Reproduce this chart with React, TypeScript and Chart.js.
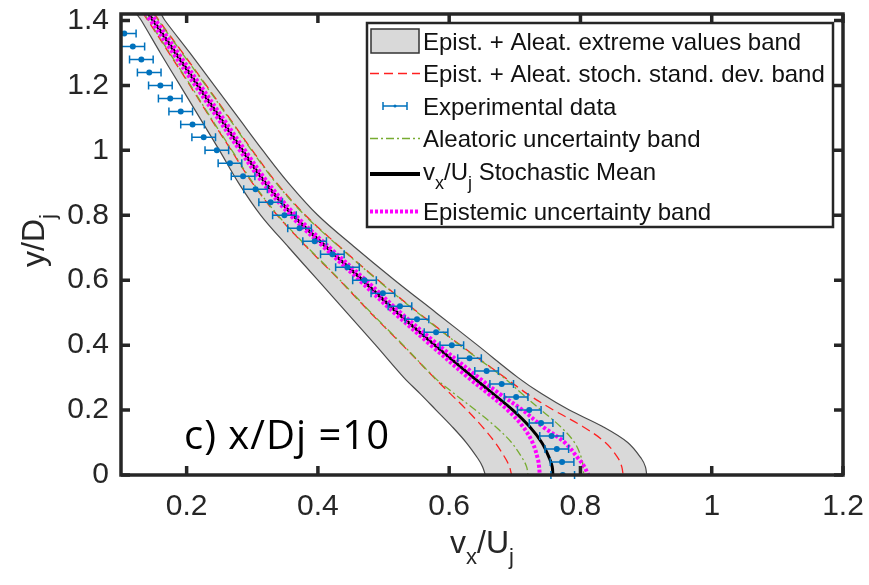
import React, { useEffect, useRef } from "react";
import { Chart, registerables } from "chart.js";

Chart.register(...registerables);

// ---- data (x = vx/Uj, y = y/Dj) ----
const Y_GRID = [1.46, 1.4, 1.3, 1.2, 1.1, 1.0, 0.9, 0.8, 0.7, 0.6, 0.5, 0.4, 0.3, 0.25, 0.2, 0.15, 0.1, 0.05, 0.025, 0];
const MEAN = [0.128, 0.149, 0.183, 0.217, 0.251, 0.285, 0.320, 0.362, 0.414, 0.468, 0.521, 0.578, 0.637, 0.667, 0.697, 0.722, 0.741, 0.753, 0.757, 0.758];
const EXT_LOW = [0.112, 0.131, 0.160, 0.190, 0.220, 0.250, 0.279, 0.313, 0.356, 0.400, 0.444, 0.488, 0.531, 0.556, 0.580, 0.604, 0.626, 0.644, 0.651, 0.655];
const EXT_HIGH = [0.147, 0.167, 0.205, 0.242, 0.279, 0.316, 0.355, 0.400, 0.457, 0.517, 0.580, 0.643, 0.705, 0.741, 0.783, 0.833, 0.872, 0.893, 0.899, 0.901];
const STD_LOW = [0.121, 0.141, 0.173, 0.205, 0.236, 0.268, 0.300, 0.338, 0.384, 0.433, 0.480, 0.529, 0.577, 0.602, 0.627, 0.650, 0.670, 0.686, 0.692, 0.695];
const STD_HIGH = [0.138, 0.158, 0.194, 0.230, 0.265, 0.300, 0.337, 0.381, 0.435, 0.492, 0.553, 0.617, 0.685, 0.719, 0.759, 0.803, 0.838, 0.858, 0.863, 0.865];
const ALEA_LOW = [0.122, 0.142, 0.174, 0.206, 0.237, 0.269, 0.301, 0.339, 0.385, 0.434, 0.481, 0.530, 0.578, 0.608, 0.640, 0.670, 0.695, 0.712, 0.718, 0.720];
const ALEA_HIGH = [0.137, 0.157, 0.193, 0.229, 0.264, 0.299, 0.336, 0.380, 0.434, 0.491, 0.552, 0.616, 0.683, 0.711, 0.740, 0.769, 0.791, 0.802, 0.804, 0.805];
const EPI_LOW = [0.124, 0.145, 0.179, 0.213, 0.247, 0.281, 0.316, 0.358, 0.410, 0.463, 0.516, 0.572, 0.629, 0.660, 0.689, 0.712, 0.727, 0.735, 0.737, 0.738];
const EPI_HIGH = [0.132, 0.153, 0.187, 0.221, 0.255, 0.289, 0.324, 0.366, 0.418, 0.473, 0.526, 0.584, 0.645, 0.677, 0.712, 0.742, 0.776, 0.797, 0.806, 0.812];

const EXP_Y = [1.36, 1.32, 1.28, 1.24, 1.2, 1.16, 1.12, 1.08, 1.04, 1.0, 0.96, 0.92, 0.88, 0.84, 0.8, 0.76, 0.72, 0.68, 0.64, 0.6, 0.56, 0.52, 0.48, 0.44, 0.4, 0.36, 0.32, 0.28, 0.24, 0.2, 0.16, 0.12, 0.08, 0.04, 0.0];
const EXP_X = [0.105, 0.118, 0.131, 0.143, 0.160, 0.175, 0.191, 0.209, 0.226, 0.246, 0.266, 0.286, 0.305, 0.328, 0.349, 0.372, 0.395, 0.422, 0.445, 0.471, 0.499, 0.525, 0.551, 0.580, 0.604, 0.631, 0.657, 0.680, 0.702, 0.722, 0.740, 0.756, 0.764, 0.772, 0.773];
const EXP_ERR = [0.018, 0.018, 0.018, 0.018, 0.018, 0.018, 0.018, 0.018, 0.018, 0.018, 0.018, 0.018, 0.018, 0.018, 0.018, 0.018, 0.018, 0.018, 0.018, 0.018, 0.018, 0.018, 0.018, 0.018, 0.018, 0.018, 0.018, 0.018, 0.018, 0.018, 0.018, 0.018, 0.018, 0.018, 0.018];

const X_TICKS = [0.2, 0.4, 0.6, 0.8, 1.0, 1.2];
const X_TICK_LABELS = ["0.2", "0.4", "0.6", "0.8", "1", "1.2"];
const Y_TICKS = [0, 0.2, 0.4, 0.6, 0.8, 1.0, 1.2, 1.4];
const Y_TICK_LABELS = ["0", "0.2", "0.4", "0.6", "0.8", "1", "1.2", "1.4"];

const LEGEND_LABELS = [
  "Epist. + Aleat. extreme values band",
  "Epist. + Aleat. stoch. stand. dev. band",
  "Experimental data",
  "Aleatoric uncertainty band",
  "Stochastic Mean",
  "Epistemic uncertainty band",
];
const ANNOTATION = "c) x/Dj =10";

// ---- styles ----
const BLUE = "#0072bd";
const RED = "#ff2020";
const GREEN = "#77ac30";
const MAGENTA = "#ff00ff";
const AXIS = "#262626";
const TICK_FONT = '"Liberation Sans", Arial, sans-serif';

const toPts = (xs: number[]) => xs.map((x, i) => ({ x, y: Y_GRID[i] }));
const bandPts = () => {
  const up = EXT_HIGH.map((x, i) => ({ x, y: Y_GRID[i] })).reverse();
  const down = EXT_LOW.map((x, i) => ({ x, y: Y_GRID[i] }));
  return [...up, ...down];
};

function drawParts(ctx: CanvasRenderingContext2D, parts: { t: string; sub?: boolean }[], x: number, y: number, size: number, subSize: number, subDy: number, align: "left" | "center") {
  const fontMain = `${size}px ${TICK_FONT}`;
  const fontSub = `${subSize}px ${TICK_FONT}`;
  let total = 0;
  const widths = parts.map((p) => {
    ctx.font = p.sub ? fontSub : fontMain;
    const w = ctx.measureText(p.t).width;
    total += w;
    return w;
  });
  let cx = align === "center" ? x - total / 2 : x;
  ctx.textAlign = "left";
  ctx.textBaseline = "alphabetic";
  parts.forEach((p, i) => {
    ctx.font = p.sub ? fontSub : fontMain;
    ctx.fillText(p.t, cx, p.sub ? y + subDy : y);
    cx += widths[i];
  });
  return total;
}

const customPlugin = {
  id: "customDraw",
  afterDatasetsDraw(chart: any) {
    const ctx: CanvasRenderingContext2D = chart.ctx;
    const xs = chart.scales.x;
    const ys = chart.scales.y;
    const a = chart.chartArea;
    ctx.save();
    ctx.beginPath();
    ctx.rect(a.left, a.top, a.right - a.left, a.bottom - a.top + 10);
    ctx.clip();
    ctx.strokeStyle = BLUE;
    ctx.lineWidth = 1.5;
    EXP_Y.forEach((yv, i) => {
      const x0 = xs.getPixelForValue(EXP_X[i] - EXP_ERR[i]);
      const x1 = xs.getPixelForValue(EXP_X[i] + EXP_ERR[i]);
      const py = ys.getPixelForValue(yv);
      ctx.beginPath();
      ctx.moveTo(x0, py);
      ctx.lineTo(x1, py);
      ctx.moveTo(x0, py - 4);
      ctx.lineTo(x0, py + 4);
      ctx.moveTo(x1, py - 4);
      ctx.lineTo(x1, py + 4);
      ctx.stroke();
    });
    ctx.restore();
  },
  afterDraw(chart: any) {
    const ctx: CanvasRenderingContext2D = chart.ctx;
    const xs = chart.scales.x;
    const ys = chart.scales.y;
    const a = chart.chartArea;
    ctx.save();
    // frame
    ctx.strokeStyle = AXIS;
    ctx.lineWidth = 3.5;
    ctx.strokeRect(a.left, a.top, a.right - a.left, a.bottom - a.top);
    // inward ticks
    const TL = 9;
    ctx.beginPath();
    X_TICKS.forEach((v) => {
      const px = xs.getPixelForValue(v);
      ctx.moveTo(px, a.bottom);
      ctx.lineTo(px, a.bottom - TL);
      ctx.moveTo(px, a.top);
      ctx.lineTo(px, a.top + TL);
    });
    Y_TICKS.forEach((v) => {
      const py = ys.getPixelForValue(v);
      ctx.moveTo(a.left, py);
      ctx.lineTo(a.left + TL, py);
      ctx.moveTo(a.right, py);
      ctx.lineTo(a.right - TL, py);
    });
    ctx.stroke();

    // axis titles
    ctx.fillStyle = AXIS;
    drawParts(ctx, [{ t: "v" }, { t: "x", sub: true }, { t: "/U" }, { t: "j", sub: true }], (a.left + a.right) / 2, 553, 32, 22, 11, "center");
    ctx.save();
    ctx.translate(44, (a.top + a.bottom) / 2 - 4);
    ctx.rotate(-Math.PI / 2);
    drawParts(ctx, [{ t: "y/D" }, { t: "j", sub: true }], 0, 0, 32, 22, 11, "center");
    ctx.restore();

    // legend
    const L = { l: 367, t: 23, r: 833, b: 227 };
    ctx.fillStyle = "#ffffff";
    ctx.fillRect(L.l, L.t, L.r - L.l, L.b - L.t);
    ctx.strokeStyle = AXIS;
    ctx.lineWidth = 2.5;
    ctx.strokeRect(L.l, L.t, L.r - L.l, L.b - L.t);
    const rows = [41.5, 73.5, 106, 138.5, 171, 211.5];
    const sx0 = 370;
    const sx1 = 420;
    // row 0: band patch
    ctx.fillStyle = "#d9d9d9";
    ctx.fillRect(sx0 + 1, 29, sx1 - sx0 - 2, 24);
    ctx.strokeStyle = "#333";
    ctx.lineWidth = 1.5;
    ctx.strokeRect(sx0 + 1, 29, sx1 - sx0 - 2, 24);
    // row 1: red dashed
    ctx.strokeStyle = RED;
    ctx.lineWidth = 1.3;
    ctx.setLineDash([9, 5]);
    ctx.beginPath();
    ctx.moveTo(sx0, rows[1]);
    ctx.lineTo(sx1, rows[1]);
    ctx.stroke();
    // row 3: green dash-dot
    ctx.strokeStyle = GREEN;
    ctx.setLineDash([8, 3, 2, 3]);
    ctx.beginPath();
    ctx.moveTo(sx0, rows[3]);
    ctx.lineTo(sx1, rows[3]);
    ctx.stroke();
    ctx.setLineDash([]);
    // row 2: error bar sample
    ctx.strokeStyle = BLUE;
    ctx.lineWidth = 1.5;
    ctx.beginPath();
    ctx.moveTo(383, rows[2]);
    ctx.lineTo(407, rows[2]);
    ctx.moveTo(383, rows[2] - 4);
    ctx.lineTo(383, rows[2] + 4);
    ctx.moveTo(407, rows[2] - 4);
    ctx.lineTo(407, rows[2] + 4);
    ctx.stroke();
    ctx.fillStyle = BLUE;
    ctx.beginPath();
    ctx.arc(395, rows[2], 1.5, 0, Math.PI * 2);
    ctx.fill();
    // row 4: black
    ctx.strokeStyle = "#000";
    ctx.lineWidth = 4;
    ctx.beginPath();
    ctx.moveTo(sx0, rows[4] + 3);
    ctx.lineTo(sx1, rows[4] + 3);
    ctx.stroke();
    // row 5: magenta dotted
    ctx.strokeStyle = MAGENTA;
    ctx.lineWidth = 4;
    ctx.setLineDash([3, 2]);
    ctx.beginPath();
    ctx.moveTo(sx0, rows[5]);
    ctx.lineTo(sx1, rows[5]);
    ctx.stroke();
    ctx.setLineDash([]);
    // texts
    ctx.fillStyle = "#111";
    ctx.textAlign = "left";
    ctx.textBaseline = "alphabetic";
    const tx = 423;
    [0, 1, 2, 3, 5].forEach((i) => {
      ctx.font = `24px ${TICK_FONT}`;
      ctx.fillText(LEGEND_LABELS[i], tx, rows[i] + 8.6);
    });
    drawParts(ctx, [{ t: "v" }, { t: "x", sub: true }, { t: "/U" }, { t: "j", sub: true }, { t: " " + LEGEND_LABELS[4] }], tx, rows[4] + 8.6, 24, 18, 9, "left");

    // annotation
    ctx.fillStyle = "#000";
    ctx.font = '40px "Open Sans", Lato, sans-serif';
    (ctx as any).letterSpacing = "1px";
    ctx.textAlign = "left";
    ctx.fillText(ANNOTATION, 184, 449);
    (ctx as any).letterSpacing = "0px";
    ctx.restore();
  },
};

export default function App() {
  const ref = useRef<HTMLCanvasElement | null>(null);
  useEffect(() => {
    if (!ref.current) return;
    const lineDs = (label: string, xsArr: number[], color: string, width: number, dash: number[]) => ({
      label,
      data: toPts(xsArr),
      showLine: true,
      borderColor: color,
      borderWidth: width,
      borderDash: dash,
      pointRadius: 0,
      fill: false,
      tension: 0.35,
    });
    const chart = new Chart(ref.current, {
      type: "scatter",
      data: {
        datasets: [
          {
            label: "Experimental data",
            data: EXP_X.map((x, i) => ({ x, y: EXP_Y[i] })),
            showLine: false,
            pointRadius: 3,
            pointBackgroundColor: BLUE,
            pointBorderColor: BLUE,
            pointBorderWidth: 0,
          },
          lineDs("Epistemic high", EPI_HIGH, MAGENTA, 4, [3, 2]),
          lineDs("Epistemic low", EPI_LOW, MAGENTA, 4, [3, 2]),
          lineDs("Stochastic Mean", MEAN, "#000000", 3, []),
          lineDs("Aleatoric low", ALEA_LOW, GREEN, 1.3, [8, 3, 2, 3]),
          lineDs("Aleatoric high", ALEA_HIGH, GREEN, 1.3, [8, 3, 2, 3]),
          lineDs("Std low", STD_LOW, RED, 1.3, [9, 5]),
          lineDs("Std high", STD_HIGH, RED, 1.3, [9, 5]),
          {
            label: "Extreme band",
            data: bandPts(),
            showLine: true,
            borderColor: "#4a4a4a",
            borderWidth: 1.2,
            backgroundColor: "#d9d9d9",
            pointRadius: 0,
            fill: "shape",
            tension: 0.35,
          },
        ],
      },
      options: {
        responsive: false,
        animation: false,
        events: [],
        layout: { padding: { left: 0, right: 26, top: 14, bottom: 0 } },
        plugins: {
          legend: { display: false },
          tooltip: { enabled: false },
        },
        scales: {
          x: {
            type: "linear",
            min: 0.1,
            max: 1.2,
            grid: { display: false, drawTicks: false },
            border: { display: false },
            afterBuildTicks: (s: any) => {
              s.ticks = X_TICKS.map((v) => ({ value: v }));
            },
            afterFit: (s: any) => {
              s.height = 110;
              s.paddingLeft = 0;
              s.paddingRight = 0;
            },
            ticks: {
              padding: 14,
              color: AXIS,
              font: { family: TICK_FONT, size: 30 },
              maxRotation: 0,
              autoSkip: false,
              callback: (_v: any, i: number) => X_TICK_LABELS[i],
            },
          },
          y: {
            type: "linear",
            min: 0,
            max: 1.42,
            grid: { display: false, drawTicks: false },
            border: { display: false },
            afterBuildTicks: (s: any) => {
              s.ticks = Y_TICKS.map((v) => ({ value: v }));
            },
            afterFit: (s: any) => {
              s.width = 121;
              s.paddingTop = 0;
              s.paddingBottom = 0;
            },
            ticks: {
              padding: 12,
              color: AXIS,
              font: { family: TICK_FONT, size: 30 },
              autoSkip: false,
              callback: (_v: any, i: number) => Y_TICK_LABELS[i],
            },
          },
        },
      },
      plugins: [customPlugin],
    } as any);
    return () => chart.destroy();
  }, []);
  return (
    <div style={{ position: "fixed", left: 0, top: 0, width: 869, height: 585, background: "#fff" }}>
      <canvas ref={ref} width={869} height={585} style={{ display: "block" }} />
    </div>
  );
}
